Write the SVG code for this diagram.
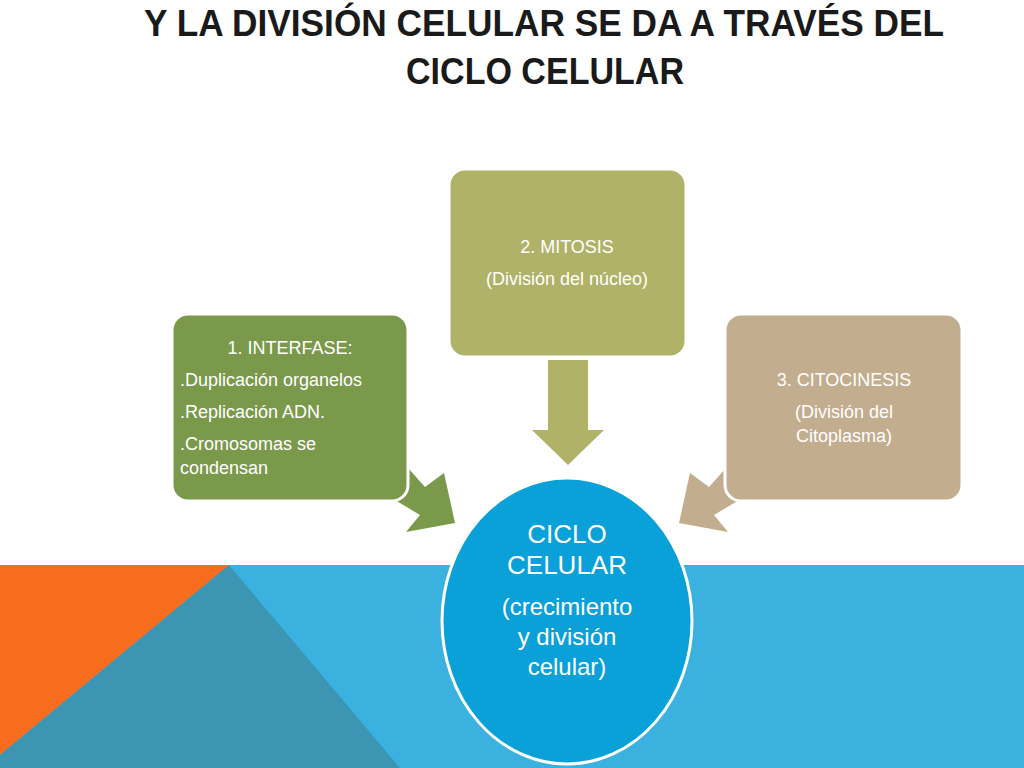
<svg xmlns="http://www.w3.org/2000/svg" width="1024" height="768" viewBox="0 0 1024 768">
<style>
.t{font-family:"Liberation Sans",Arial,sans-serif;fill:#fff;text-anchor:middle}
.b{stroke:#fff;stroke-width:3}
.title{font-family:"Liberation Sans",Arial,sans-serif;font-weight:bold;font-size:37px;fill:#1a1a1a;text-anchor:middle}
</style>
<rect width="1024" height="768" fill="#fff"/>
<g id="background">
<rect x="0" y="565" width="1024" height="203" fill="#3bb1df"/>
<polygon points="0,565 229,565 0,755" fill="#f76d1d"/>
<polygon points="229,565 400,768 0,768 0,755" fill="#3c95b3"/>
</g>
<g id="title">
<text class="title" x="544" y="36" textLength="800" lengthAdjust="spacingAndGlyphs">Y LA DIVISIÓN CELULAR SE DA A TRAVÉS DEL</text>
<text class="title" x="545" y="84" textLength="278" lengthAdjust="spacingAndGlyphs">CICLO CELULAR</text>
</g>
<g id="connectors">
<polygon points="548,360 588,360 588,430 604,430 568,465 532,430 548,430" fill="#b0b268"/>
<polygon points="408,468 425,487 444,473 455,523 406,532 420,515 395,500" fill="#7a994b"/>
<polygon points="726,468 709,487 690,473 679,523 728,532 714,515 739,500" fill="#c2ad8e"/>
</g>
<g id="interfase">
<rect class="b" x="172" y="314" width="236" height="187" rx="16" fill="#7a994b"/>
<text class="t" font-size="18" x="290" y="354">1. INTERFASE:</text>
<text class="t" font-size="18" x="180" y="386" style="text-anchor:start">.Duplicación organelos</text>
<text class="t" font-size="18" x="180" y="418" style="text-anchor:start">.Replicación ADN.</text>
<text class="t" font-size="18" x="180" y="450" style="text-anchor:start">.Cromosomas se</text>
<text class="t" font-size="18" x="180" y="474" style="text-anchor:start">condensan</text>
</g>
<g id="mitosis">
<rect class="b" x="449" y="169" width="237" height="188" rx="16" fill="#b0b268"/>
<text class="t" font-size="18" x="567" y="253">2. MITOSIS</text>
<text class="t" font-size="18" x="567" y="285">(División del núcleo)</text>
</g>
<g id="citocinesis">
<rect class="b" x="725" y="314" width="237" height="187" rx="16" fill="#c2ad8e"/>
<text class="t" font-size="18" x="844" y="386">3. CITOCINESIS</text>
<text class="t" font-size="18" x="844" y="418">(División del</text>
<text class="t" font-size="18" x="844" y="442">Citoplasma)</text>
</g>
<g id="ciclo">
<ellipse class="b" cx="567" cy="621" rx="125" ry="143" fill="#0aa0d8"/>
<text class="t" font-size="26" x="567" y="543">CICLO</text>
<text class="t" font-size="26" x="567" y="574">CELULAR</text>
<text class="t" font-size="24" x="567" y="615">(crecimiento</text>
<text class="t" font-size="24" x="567" y="645">y división</text>
<text class="t" font-size="24" x="567" y="675">celular)</text>
</g>
</svg>
